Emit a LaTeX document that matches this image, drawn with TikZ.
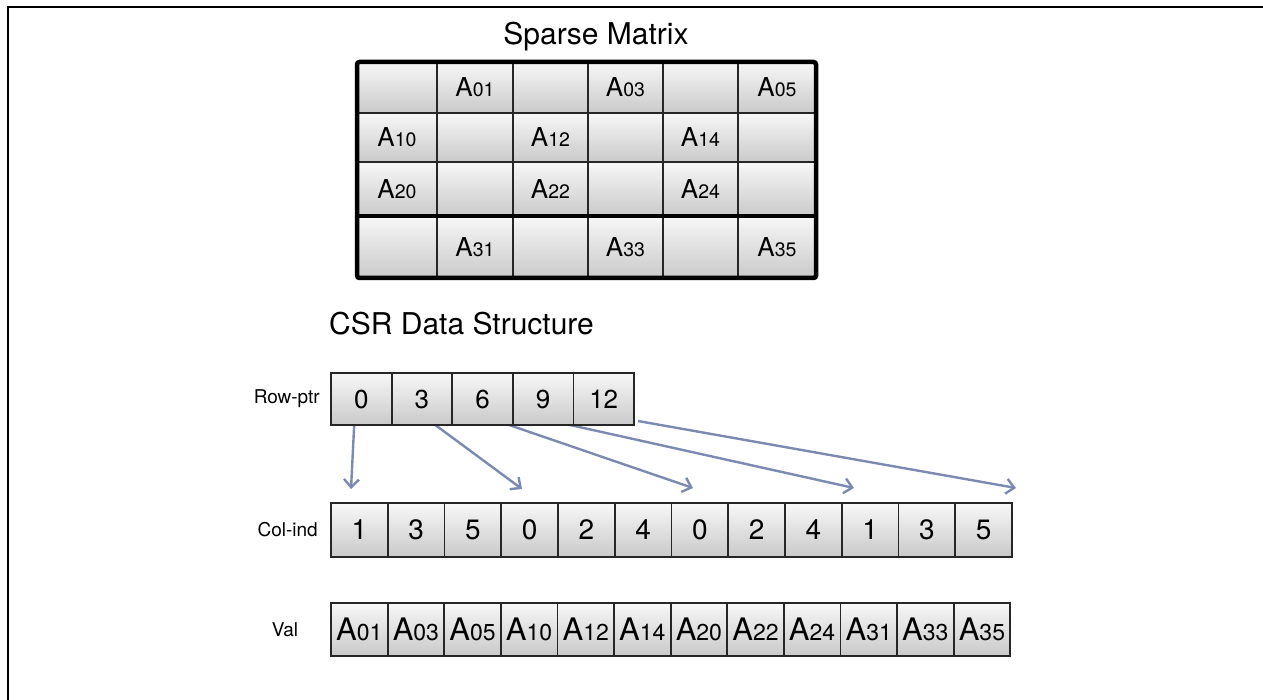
\documentclass[tikz,border=0pt]{standalone}
\usepackage{fontspec}
\setmainfont{TeX Gyre Heros}
\usetikzlibrary{arrows.meta,backgrounds}

% matrix entry: large A followed by smaller index digits on the baseline
\newcommand\mxA[1]{{\fontsize{26}{26}\selectfont A}{\fontsize{19.5}{19.5}\selectfont #1}}
\newcommand\vlA[1]{{\fontsize{31}{31}\selectfont A}{\fontsize{23}{23}\selectfont #1}}

\definecolor{ptrblue}{RGB}{124,138,178}

\begin{document}
\begin{tikzpicture}[x=1pt,y=-1pt,
  basecell/.style={draw=black!85, line width=1.8pt, inner sep=0pt, outer sep=0pt,
    top color=black!3, bottom color=black!21, anchor=north west},
  mcell/.style={basecell},
  acell/.style={basecell, font=\fontsize{26}{26}\selectfont},
  ccell/.style={basecell, font=\fontsize{28}{28}\selectfont},
  lbl/.style={font=\fontsize{19}{19}\selectfont, inner sep=0pt},
  title/.style={font=\fontsize{30}{30}\selectfont, inner sep=0pt},
  ptr/.style={draw=ptrblue, line width=2.4pt, -{Straight Barb[length=8pt,width=15pt]}}
]
\useasboundingbox (0,0) rectangle (1263,700);

% frame lines along the top and left edge
\draw[line width=1.5pt] (8,700) -- (8,7) -- (1263,7);

% titles
\node[title, anchor=base] (tsparse) at (596,45) {Sparse Matrix};
\node[title, anchor=base west] (tcsr) at (329,335) {CSR Data Structure};

% sparse matrix: 4 rows x 6 columns, nonzeros alternate by row
\foreach \c/\x/\w in {0/357/80,1/437/76,2/513/75,3/588/75,4/663/75,5/738/78}
  \foreach \r/\y/\h in {0/62/51,1/113/49,2/162/54,3/216/62}
  {
    \pgfmathtruncatemacro\f{mod(\c+or(\r==1,\r==2),2)}
    \node[mcell, minimum width=\w pt, minimum height=\h pt] (m\r\c) at (\x,\y)
      {\ifnum\f=1 \mxA{\r\c}\fi};
  }
\draw[line width=3.5pt] (m30.north west) -- (m35.north east);
\draw[line width=4.5pt, rounded corners=2.5pt] (m00.north west) rectangle (m35.south east);

% CSR arrays
\node[lbl, anchor=east] (lrow) at (320,399) {Row-ptr};
\foreach \v [count=\i from 0] in {0,3,6,9,12}
  \node[acell, minimum width=60.6pt, minimum height=52pt] (r\i) at (331+\i*60.6,373) {\v};

\node[lbl, anchor=east] (lcol) at (318,530) {Col-ind};
\foreach \v [count=\i from 0] in {1,3,5,0,2,4,0,2,4,1,3,5}
  \node[ccell, minimum width=56.75pt, minimum height=54pt] (c\i) at (331+\i*56.75,503) {\v};

\node[lbl] (lval) at (285,630) {Val};
\foreach \v [count=\i from 0] in {01,03,05,10,12,14,20,22,24,31,33,35}
  \node[basecell, minimum width=56.6pt, minimum height=53pt] (v\i) at (331+\i*56.6,603) {\vlA{\v}};

% row pointers into the column-index array
\coordinate (t0) at (351,489);
\coordinate (t1) at (522,489);
\coordinate (t2) at (693,488);
\coordinate (t3) at (854,488);
\coordinate (t4) at (1016,488);
\begin{scope}[on background layer]
  \draw[ptr] ([xshift=-7pt,yshift=2pt]r0.south) -- (t0);
  \draw[ptr] ([xshift=8pt,yshift=4pt]r1.south) -- (t1);
  \draw[ptr] ([xshift=12pt,yshift=5pt]r2.south) -- (t2);
  \draw[ptr] ([xshift=9pt,yshift=4pt]r3.south) -- (t3);
  \draw[ptr] ([xshift=4pt,yshift=4pt]r4.south east) -- (t4);
\end{scope}
\end{tikzpicture}
\end{document}
